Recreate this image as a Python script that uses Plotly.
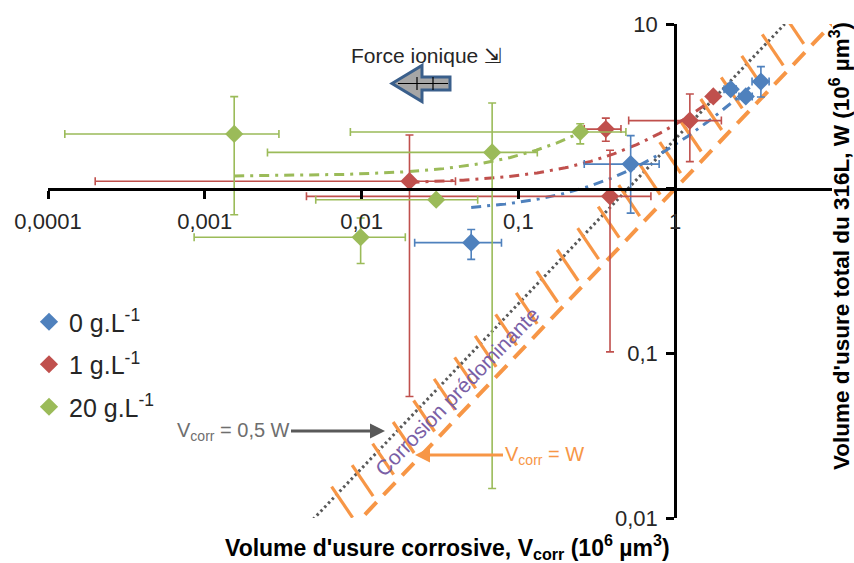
import numpy as np
import plotly.graph_objects as go

# ---------------- data ----------------
series_names = ["0 g.L<sup>-1</sup>", "1 g.L<sup>-1</sup>", "20 g.L<sup>-1</sup>"]

vcorr_0 = [0.050, 0.52, 2.26, 2.82, 3.52]
w_0 = [0.47, 1.41, 4.02, 3.63, 4.47]
vcorr_0_lo = [0.0218, 0.263, 2.05, 2.55, 3.09]
vcorr_0_hi = [0.078, 0.79, 2.45, 3.10, 3.97]
w_0_lo = [0.372, 0.71, 3.85, 3.45, 3.60]
w_0_hi = [0.565, 2.10, 4.20, 3.80, 5.51]

vcorr_1 = [0.0202, 0.384, 0.361, 1.24, 1.75]
w_1 = [1.11, 0.898, 2.30, 2.59, 3.63]
vcorr_1_lo = [0.0002, 0.00445, 0.263, 0.505, 1.70]
vcorr_1_hi = [0.0397, 0.70, 0.451, 1.97, 1.80]
w_1_lo = [0.0547, 0.102, 1.94, 1.46, 3.55]
w_1_hi = [2.12, 1.71, 2.68, 3.76, 3.71]

vcorr_20 = [0.00154, 0.00986, 0.0299, 0.068, 0.248]
w_20 = [2.15, 0.507, 0.857, 1.66, 2.21]
vcorr_20_lo = [0.000128, 0.000855, 0.0051, 0.00251, 0.00848]
vcorr_20_hi = [0.00297, 0.019, 0.055, 0.132, 0.485]
w_20_lo = [0.695, 0.351, 0.82, 0.0151, 1.87]
w_20_hi = [3.62, 0.664, 0.90, 3.31, 2.48]

# reference lines  W = Vcorr / ratio
ratio_half = 0.5          # Vcorr = 0.5 W
ratio_equal = 1.0         # Vcorr = W
half_line_vcorr = [0.0049, 5.0]
equal_line_vcorr = [0.0105, 10.0]
hatch_vcorr_start, hatch_vcorr_end, hatch_count = 0.00703, 5.3, 23

x_tickvals = [0.0001, 0.001, 0.01, 0.1, 1]
x_ticktext = ["0,0001", "0,001", "0,01", "0,1", "1"]
y_tickvals = [0.01, 0.1, 1, 10]
y_ticktext = ["0,01", "0,1", "", "10"]

# ---------------- styling ----------------
BLUE, RED, GREEN = "#4F81BD", "#C0504D", "#9BBB59"
ORANGE, GREY, PURPLE = "#F79646", "#595959", "#7A5FA6"
FONT = "Liberation Sans, Arial, sans-serif"

W_FIG, H_FIG = 854, 563
L, R, T, B = 48, 22, 24, 45
PW, PH = W_FIG - L - R, H_FIG - T - B
XR, YR = (-4, 1), (-2, 1)


def P(xp):  # window pixel -> paper x
    return (xp - L) / PW


def Q(yp):  # window pixel -> paper y
    return (H_FIG - B - yp) / PH


fig = go.Figure()

# reference lines
hx = np.array(half_line_vcorr)
fig.add_trace(go.Scatter(x=hx, y=hx / ratio_half, mode="lines", showlegend=False,
                         hoverinfo="skip",
                         line=dict(color=GREY, width=3, dash="2.5px,3px")))

# hatch strokes in the "corrosion prédominante" band
sx_per_dec = PW / (XR[1] - XR[0])
sy_per_dec = PH / (YR[1] - YR[0])
anchors = np.geomspace(hatch_vcorr_start, hatch_vcorr_end, hatch_count)
hxs, hys = [], []
for a in anchors:
    lx, ly = np.log10(a), np.log10(a / ratio_half)
    x0 = 10 ** (lx - 6 / sx_per_dec); y0 = 10 ** (ly + 7 / sy_per_dec)
    x1 = 10 ** (lx + 15 / sx_per_dec); y1 = 10 ** (ly - 24 / sy_per_dec)
    hxs += [x0, x1, None]; hys += [y0, y1, None]
fig.add_trace(go.Scatter(x=hxs, y=hys, mode="lines", showlegend=False, hoverinfo="skip",
                         line=dict(color=ORANGE, width=3.2)))

ex = np.array(equal_line_vcorr)
fig.add_trace(go.Scatter(x=ex, y=ex / ratio_equal, mode="lines", showlegend=False,
                         hoverinfo="skip",
                         line=dict(color=ORANGE, width=4, dash="17px,10px")))

series = [
    (series_names[0], BLUE, vcorr_0, w_0, vcorr_0_lo, vcorr_0_hi, w_0_lo, w_0_hi),
    (series_names[1], RED, vcorr_1, w_1, vcorr_1_lo, vcorr_1_hi, w_1_lo, w_1_hi),
    (series_names[2], GREEN, vcorr_20, w_20, vcorr_20_lo, vcorr_20_hi, w_20_lo, w_20_hi),
]

# linear trend lines (least squares, as in a spreadsheet)
for name, col, x, y, *_ in series:
    k, c = np.polyfit(x, y, 1)
    tx = np.geomspace(min(x), max(x), 120)
    fig.add_trace(go.Scatter(x=tx, y=k * tx + c, mode="lines", showlegend=False,
                             hoverinfo="skip",
                             line=dict(color=col, width=3, dash="10px,6px,3px,6px")))

for i, (name, col, x, y, xlo, xhi, ylo, yhi) in enumerate(series):
    x = np.array(x); y = np.array(y)
    fig.add_trace(go.Scatter(
        x=x, y=y, mode="markers", name=name, legendgroup=f"g{i}",
        marker=dict(symbol="diamond", size=14, color=col),
        error_x=dict(type="data", symmetric=False, array=np.array(xhi) - x,
                     arrayminus=x - np.array(xlo), color=col, thickness=1.6, width=4),
        error_y=dict(type="data", symmetric=False, array=np.array(yhi) - y,
                     arrayminus=y - np.array(ylo), color=col, thickness=1.6, width=4),
    ))

axis_common = dict(type="log", showgrid=False, zeroline=False, showline=True,
                   linecolor="black", linewidth=3, ticks="outside", ticklen=8,
                   tickwidth=3, tickcolor="black",
                   tickfont=dict(family=FONT, size=22, color="#262626"))

fig.update_layout(
    width=W_FIG, height=H_FIG,
    margin=dict(l=L, r=R, t=T, b=B, autoexpand=False),
    paper_bgcolor="white", plot_bgcolor="white",
    font=dict(family=FONT),
    xaxis=dict(range=list(XR), anchor="free", position=(0 - YR[0]) / (YR[1] - YR[0]),
               tickvals=x_tickvals, ticktext=x_ticktext, ticklabelstandoff=4,
               **axis_common),
    yaxis=dict(range=list(YR), anchor="free", position=(0 - XR[0]) / (XR[1] - XR[0]),
               tickvals=y_tickvals, ticktext=y_ticktext, ticklabelstandoff=4,
               **axis_common),
    legend=dict(x=P(29), y=Q(299), xanchor="left", yanchor="top",
                bgcolor="rgba(0,0,0,0)", font=dict(family=FONT, size=25, color="#262626"),
                tracegroupgap=7, traceorder="grouped", itemwidth=30),
    showlegend=True,
)


def note(xp, yp, text, size, color, **kw):
    d = dict(xref="paper", yref="paper", x=P(xp), y=Q(yp), text=text,
             xanchor="center", yanchor="middle", showarrow=False,
             font=dict(family=FONT, size=size, color=color))
    d.update(kw)
    return d


ann = [
    note(447, 547, "<b>Volume d'usure corrosive, V<sub>corr</sub> (10<sup>6</sup> µm<sup>3</sup>)</b>",
         23, "black"),
    note(840, 246, "<b>Volume d'usure total du 316L, W (10<sup>6</sup> µm<sup>3</sup>)</b>",
         22.5, "black", textangle=-90),
    note(426, 56, "Force ionique ⇲", 21, "#262626"),
    note(385, 431, "V<sub>corr</sub> = 0,5 W", 20, "#6E6E6E", showarrow=True, ax=-152, ay=0,
         arrowhead=2, arrowsize=1, arrowwidth=3, arrowcolor=GREY),
    note(415, 455, "V<sub>corr</sub> = W", 20, ORANGE, showarrow=True, ax=129, ay=0,
         arrowhead=2, arrowsize=1, arrowwidth=3, arrowcolor=ORANGE),
    note(457, 391, "Corrosion prédominante", 21, PURPLE, textangle=-46),
]
fig.update_layout(annotations=ann)

# block arrow (decoration)
pts = [(392, 83.5), (422, 65.5), (422, 77), (450, 77), (450, 90), (422, 90), (422, 101.5)]
path = "M " + " L ".join(f"{P(a):.5f},{Q(b):.5f}" for a, b in pts) + " Z"
shapes = [dict(type="path", xref="paper", yref="paper", path=path,
               fillcolor="#A6A6A6", line=dict(color="#3A5F8B", width=3))]
for (a0, b0, a1, b1) in [(398, 83.5, 448, 83.5), (417, 77, 417, 90), (433, 77, 433, 90)]:
    shapes.append(dict(type="line", xref="paper", yref="paper", x0=P(a0), y0=Q(b0),
                       x1=P(a1), y1=Q(b1), line=dict(color="black", width=1.2)))
fig.update_layout(shapes=shapes)

fig.write_html("out.html", config={"displayModeBar": False},
               post_script="document.body.style.margin='0px';"
                           "document.body.style.overflow='hidden';")
